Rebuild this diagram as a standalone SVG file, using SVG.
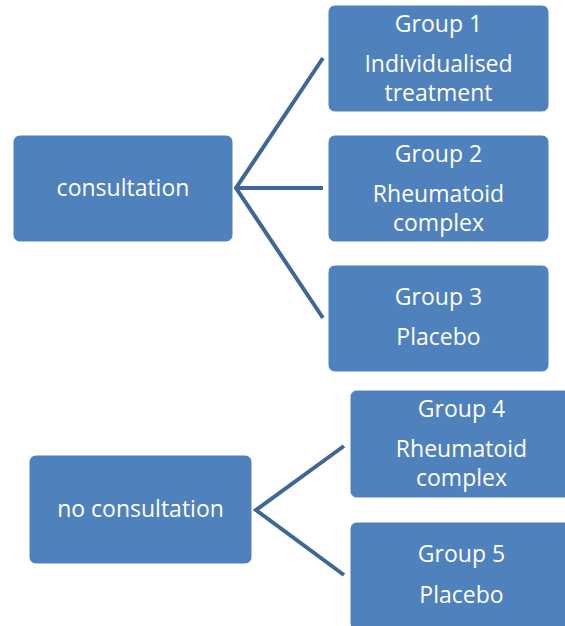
<svg xmlns="http://www.w3.org/2000/svg" width="565" height="626" viewBox="0 0 565 626">
<style>
.box{fill:#4F81BD;stroke:#ffffff;stroke-width:1}
.t{font-family:"Open Sans","Liberation Sans",sans-serif;font-size:23px;fill:#ffffff;text-anchor:middle}
.c{stroke:#3E6697;stroke-width:4;fill:none;stroke-linecap:butt;stroke-linejoin:miter}
</style>
<rect width="565" height="626" fill="#ffffff"/>
<g id="connectors">
<path class="c" d="M323,58 L236,188 L323,318 M236,188 L323,188"/>
<path class="c" d="M344,446 L256,510 L344,575"/>
</g>
<g id="consultation">
<rect class="box" x="13" y="135" width="220" height="107" rx="7"/>
<text class="t" x="123" y="196">consultation</text>
</g>
<g id="group1">
<rect class="box" x="328" y="5" width="221" height="107" rx="7"/>
<text class="t" x="438.5" y="32">Group 1</text>
<text class="t" x="438.5" y="72">Individualised</text>
<text class="t" x="438.5" y="101">treatment</text>
</g>
<g id="group2">
<rect class="box" x="328" y="135" width="221" height="107" rx="7"/>
<text class="t" x="438.5" y="162">Group 2</text>
<text class="t" x="438.5" y="202">Rheumatoid</text>
<text class="t" x="438.5" y="231">complex</text>
</g>
<g id="group3">
<rect class="box" x="328" y="265" width="221" height="107" rx="7"/>
<text class="t" x="438.5" y="305">Group 3</text>
<text class="t" x="438.5" y="345">Placebo</text>
</g>
<g id="noconsultation">
<rect class="box" x="29" y="455" width="223" height="109" rx="7"/>
<text class="t" x="140.5" y="517">no consultation</text>
</g>
<g id="group4">
<rect class="box" x="350" y="390" width="223" height="108" rx="7"/>
<text class="t" x="461.5" y="417">Group 4</text>
<text class="t" x="461.5" y="457">Rheumatoid</text>
<text class="t" x="461.5" y="486">complex</text>
</g>
<g id="group5">
<rect class="box" x="350" y="522" width="223" height="108" rx="7"/>
<text class="t" x="461.5" y="562">Group 5</text>
<text class="t" x="461.5" y="603">Placebo</text>
</g>
</svg>
